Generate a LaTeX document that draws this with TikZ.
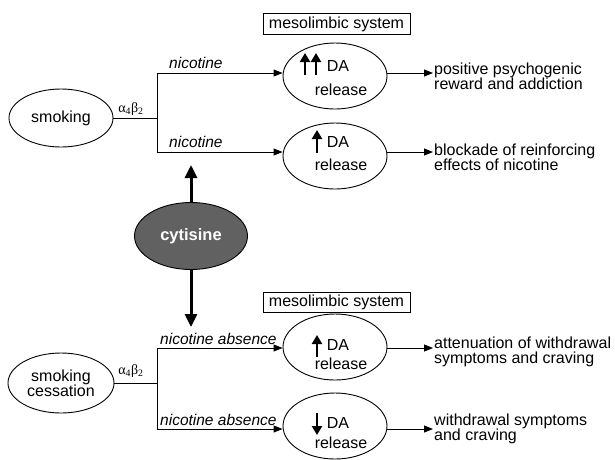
\documentclass[tikz,border=0pt]{standalone}
\usepackage{fontspec}
\setmainfont{Liberation Sans}
\newfontfamily\grfont{Liberation Serif}
\usetikzlibrary{arrows.meta,shapes.geometric}
\begin{document}
\begin{tikzpicture}[x=1pt,y=-1pt,
  every node/.style={font=\fontsize{16}{15}\selectfont},
  ell/.style={draw,ellipse,inner sep=0pt,line width=0.9pt},
  daell/.style={ell,minimum width=104pt,minimum height=66pt},
  conn/.style={line width=0.9pt},
  arr/.style={conn,-{Triangle[length=9pt,width=7pt]}},
  bigarr/.style={line width=3pt,-{Triangle[length=13pt,width=12pt]}},
  smallarr/.style={line width=2.4pt,-{Triangle[length=9pt,width=10pt]}},
  txt/.style={inner sep=0pt},
  res/.style={anchor=west,align=left,inner sep=1pt},
  lab/.style={font=\fontsize{15.5}{15}\selectfont\itshape,inner sep=0pt,anchor=west},
  mbox/.style={draw,line width=0.9pt,minimum width=147pt,minimum height=21pt,inner sep=0pt},
  greek/.style={font=\fontsize{14}{14}\selectfont\grfont,inner sep=0pt}]

\useasboundingbox (0,0) rectangle (615,459);

% ---------- top half ----------
\node[ell,minimum width=104pt,minimum height=58pt] (S1) at (61,118) {smoking};
\node[greek] (g1) at (131,109) {α\textsubscript{4}β\textsubscript{2}};
\coordinate (j1) at (157,118);
\coordinate (t1) at (157,73);
\coordinate (t2) at (157,152);

\node[mbox] (M1) at (336.5,24) {mesolimbic system};
\node[daell] (E1) at (335,76) {};
\node[daell] (E2) at (335,156) {};
\node[txt] (DA1) at (338,66) {DA};
\node[txt] (RL1) at (341,90) {release};
\node[txt] (DA2) at (338,142) {DA};
\node[txt] (RL2) at (341,165) {release};

\node[lab] (n1) at (169,63) {nicotine};
\node[lab] (n2) at (169,142) {nicotine};

\node[res] (R1) at (433,76) {positive psychogenic\\reward and addiction};
\node[res] (R2) at (433,157) {blockade of reinforcing\\effects of nicotine};

\draw[conn] (S1.east) -- (j1);
\draw[conn] (t1) -- (t2);
\draw[arr] (t1) -- (t1 -| E1.west);
\draw[arr] (t2) -- (t2 -| E2.west);
\draw[arr] (t1 -| E1.east) -- (t1 -| R1.west);
\draw[arr] (t2 -| E2.east) -- (t2 -| R2.west);

\draw[smallarr] (305,75) -- (305,53);
\draw[smallarr] (316,75) -- (316,53);
\draw[smallarr] (317,153) -- (317,130);

% ---------- cytisine ----------
\node[ell,fill=black!62,minimum width=113pt,minimum height=67pt,text=white,
      font=\fontsize{16.5}{15}\selectfont\bfseries] (C) at (191,236) {cytisine};
\coordinate (cu) at (191,165);
\coordinate (cd) at (191,327);
\draw[bigarr] (C.north) -- (cu);
\draw[bigarr] (C.south) -- (cd);

% ---------- bottom half ----------
\node[ell,minimum width=106pt,minimum height=60pt,align=center] (S2) at (61,383) {smoking\\cessation};
\node[greek] (g2) at (131,371) {α\textsubscript{4}β\textsubscript{2}};
\coordinate (j2) at (157,383);
\coordinate (b1) at (157,348);
\coordinate (b2) at (157,429);

\node[mbox,minimum height=20pt] (M2) at (336.5,302.5) {mesolimbic system};
\node[daell] (E3) at (335,347) {};
\node[daell] (E4) at (335,426) {};
\node[txt] (DA3) at (338,345) {DA};
\node[txt] (RL3) at (341,364) {release};
\node[txt] (DA4) at (338,423) {DA};
\node[txt] (RL4) at (341,443) {release};

\node[lab] (n3) at (160,339) {nicotine absence};
\node[lab] (n4) at (160,420) {nicotine absence};

\node[res] (R3) at (433,352) {attenuation of withdrawal\\symptoms and craving};
\node[res] (R4) at (433,429) {withdrawal symptoms\\and craving};

\draw[conn] (S2.east) -- (j2);
\draw[conn] (b1) -- (b2);
\draw[arr] (b1) -- (b1 -| E3.west);
\draw[arr] (b2) -- (b2 -| E4.west);
\draw[arr] (b1 -| E3.east) -- (b1 -| R3.west);
\draw[arr] (b2 -| E4.east) -- (b2 -| R4.west);

\draw[smallarr] (317,357) -- (317,335);
\draw[smallarr] (317,413) -- (317,435);

\end{tikzpicture}
\end{document}
